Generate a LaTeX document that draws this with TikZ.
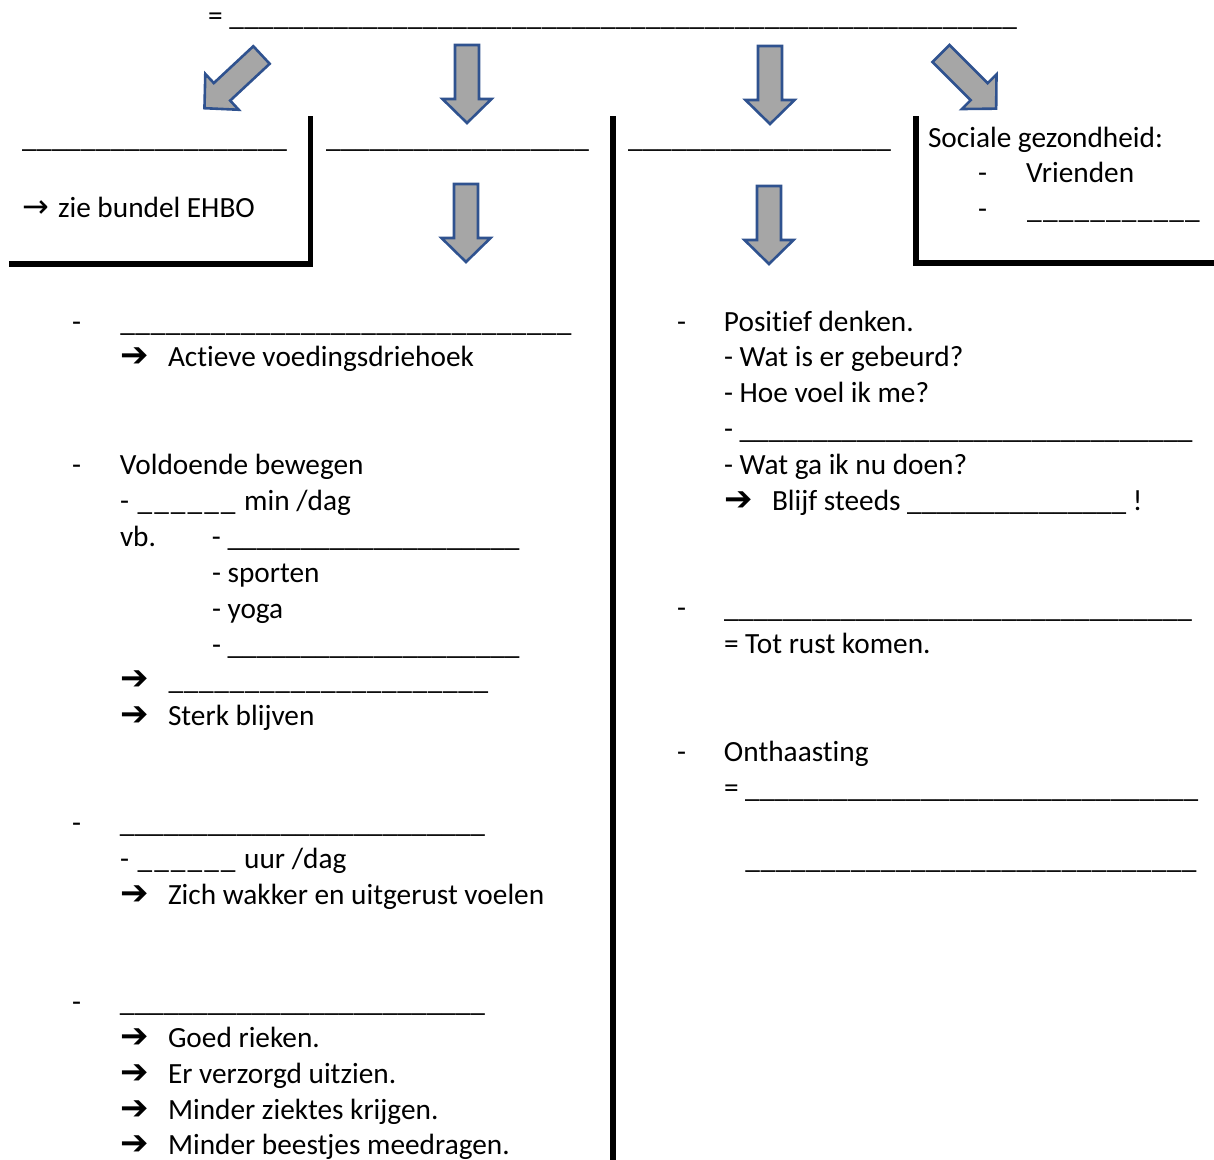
\documentclass[tikz,border=0pt]{standalone}
\usepackage{fontspec}
\setmainfont{Carlito}[Ligatures=NoCommon]
\newfontfamily\symfont{DejaVu Sans}
\usepackage{tikz}
\usetikzlibrary{positioning}
\definecolor{pijlgrijs}{RGB}{166,166,166}
\definecolor{pijlblauw}{RGB}{47,82,143}
\newcommand\blank[1]{\hbox to #1pt{\xleaders\hbox{\_}\hfill}}
\newcommand\pijl{{\symfont\bfseries\fontsize{34}{36}\selectfont ➔}}
\newcommand\tabje[2]{\makebox[#1pt][l]{#2}}
\tikzset{
  pics/pijlblok/.style={code={
    \draw[blok] (-12,0) -- (12,0) -- (12,54) -- (24.5,54) -- (0,78)
      -- (-24.5,54) -- (-12,54) -- cycle;}}
}

\begin{document}
\begin{tikzpicture}[
  x=1pt, y=-1pt,
  font=\fontsize{29.3}{36}\selectfont,
  regel/.style={anchor=base west, inner sep=0pt, outer sep=0pt},
  blok/.style={fill=pijlgrijs, draw=pijlblauw, line width=2.6pt, line join=miter},
  balk/.style={line width=5.5pt, line cap=rect},
]
\useasboundingbox (0,0) rectangle (1214,1159);

% titel
\node[regel] (titel) at (208,25) {= \blank{788}};

% pijlen
\pic[rotate=-47] (pijlA) at (261.5,55) {pijlblok};
\pic (pijlB) at (467,45) {pijlblok};
\pic (pijlC) at (770,46) {pijlblok};
\pic[rotate=45] (pijlD) at (941,53.5) {pijlblok};
\pic (pijlE) at (466,184) {pijlblok};
\pic (pijlF) at (769,186) {pijlblok};

% kaders
\draw[balk] (12,264) -- (310.5,264) -- (310.5,119);
\draw[balk] (613,119) -- (613,1162);
\draw[balk] (916,119) -- (916,263) -- (1216,263);

% koppen
\node[regel] (kopA) at (22,147) {\blank{265}};
\node[regel] (ehbo) at (22,217) {\tabje{36}{\symfont\fontsize{32}{36}\selectfont →}zie bundel EHBO};
\node[regel] (kopB) at (326,147) {\blank{263}};
\node[regel] (kopC) at (628,147) {\blank{263}};
\node[regel] (sociaal) at (928,147) {Sociale gezondheid:};
\node[regel] (vrienden) at (978,182) {\tabje{48}{-}Vrienden};
\node[regel] (sociaal2) at (978,218) {\tabje{48}{-}\blank{175}};

% linkerkolom
\node[regel] (voeding) at (72,331) {\tabje{48}{-}\blank{452}};
\node[regel] (driehoek) at (120,366) {\tabje{48}{\pijl}Actieve voedingsdriehoek};
\node[regel] (bewegen) at (72,474) {\tabje{48}{-}Voldoende bewegen};
\node[regel] (minuten) at (120,510) {- \blank{102} min /dag};
\node[regel] (vb) at (120,546) {\tabje{92}{vb.}- \blank{292}};
\node[regel] (sporten) at (212,582) {- sporten};
\node[regel] (yoga) at (212,618) {- yoga};
\node[regel] (vb2) at (212,654) {- \blank{292}};
\node[regel] (bew1) at (120,689) {\tabje{48}{\pijl}\blank{321}};
\node[regel] (sterk) at (120,725) {\tabje{48}{\pijl}Sterk blijven};
\node[regel] (slaap) at (72,832) {\tabje{48}{-}\blank{365}};
\node[regel] (uren) at (120,868) {- \blank{102} uur /dag};
\node[regel] (wakker) at (120,904) {\tabje{48}{\pijl}Zich wakker en uitgerust voelen};
\node[regel] (hygiene) at (72,1011) {\tabje{48}{-}\blank{365}};
\node[regel] (rieken) at (120,1047) {\tabje{48}{\pijl}Goed rieken.};
\node[regel] (verzorgd) at (120,1083) {\tabje{48}{\pijl}Er verzorgd uitzien.};
\node[regel] (ziektes) at (120,1119) {\tabje{48}{\pijl}Minder ziektes krijgen.};
\node[regel] (beestjes) at (120,1154) {\tabje{48}{\pijl}Minder beestjes meedragen.};

% rechterkolom
\node[regel] (positief) at (677,331) {\tabje{47}{-}Positief denken.};
\node[regel] (gebeurd) at (724,366) {- Wat is er gebeurd?};
\node[regel] (voel) at (724,402) {- Hoe voel ik me?};
\node[regel] (denk) at (724,438) {- \blank{453}};
\node[regel] (doen) at (724,474) {- Wat ga ik nu doen?};
\node[regel] (steeds) at (724,510) {\tabje{48}{\pijl}Blijf steeds \blank{219} !};
\node[regel] (rust) at (677,617) {\tabje{47}{-}\blank{468}};
\node[regel] (rust2) at (724,653) {= Tot rust komen.};
\node[regel] (onthaast) at (677,761) {\tabje{47}{-}Onthaasting};
\node[regel] (onthaast2) at (724,797) {= \blank{453}};
\node[regel] (onthaast3) at (745,868) {\blank{452}};
\end{tikzpicture}
\end{document}
